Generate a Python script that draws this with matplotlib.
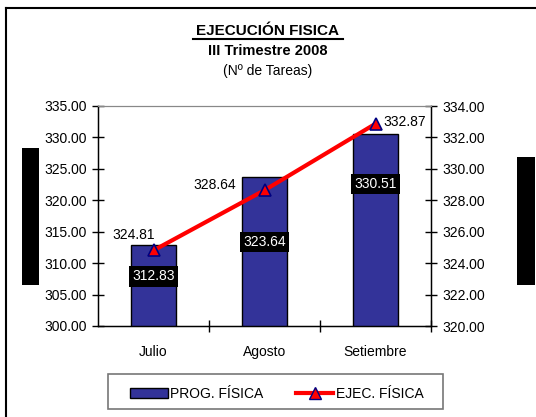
import matplotlib.pyplot as plt
from matplotlib.patches import Rectangle
from matplotlib.lines import Line2D

plt.rcParams['font.family'] = ['Liberation Sans', 'DejaVu Sans']

# Data
months = ["Julio", "Agosto", "Setiembre"]
prog_fisica = [312.83, 323.64, 330.51]
ejec_fisica = [324.81, 328.64, 332.87]
left_ticks = [300, 305, 310, 315, 320, 325, 330, 335]
right_ticks = [320, 322, 324, 326, 328, 330, 332, 334]

# where the white-on-black bar labels sit (left axis units)
bar_label_y = [307.95, 313.36, 322.59]
# offsets (points) of the line labels from their markers
line_label_offsets = [(-14, 11), (-36, 4), (21, 1.5)]

W, H = 536, 417
fig = plt.figure(figsize=(W / 100, H / 100), dpi=100)

ax = fig.add_axes([98 / W, 1 - 326 / H, 333 / W, 220 / H])
x = range(len(months))

ax.bar(x, prog_fisica, width=0.4, color="#333399", edgecolor="black", linewidth=1, zorder=2)
ax.set_xlim(-0.5, 2.5)
ax.set_ylim(300, 335)
ax.set_yticks(left_ticks)
ax.set_yticklabels([f"{v:.2f}" for v in left_ticks], fontsize=10)
ax.set_xticks(list(x))
ax.set_xticklabels(months, fontsize=10)
ax.tick_params(axis="x", length=0, pad=14)
ax.set_xticks([0.5, 1.5, 2.5], minor=True)
ax.tick_params(axis="x", which="minor", direction="inout", length=8, width=1)
ax.tick_params(axis="y", direction="inout", length=8, width=1, pad=4)

for i, v in enumerate(prog_fisica):
    ax.text(i, bar_label_y[i], f"{v:.2f}", color="white", fontsize=10,
            ha="center", va="center", zorder=3,
            bbox=dict(facecolor="black", edgecolor="none", pad=2.5))

ax.spines["top"].set_color("#888888")
for s in ["left", "right", "bottom"]:
    ax.spines[s].set_color("black")
    ax.spines[s].set_linewidth(1)

ax2 = ax.twinx()
ax2.plot(x, ejec_fisica, color="red", linewidth=3, marker="^", markersize=8,
         markerfacecolor="red", markeredgecolor="#000080", markeredgewidth=1.2, zorder=4)
ax2.set_ylim(320, 334)
ax2.set_yticks(right_ticks)
ax2.set_yticklabels([f"{v:.2f}" for v in right_ticks], fontsize=10)
ax2.tick_params(axis="y", direction="inout", length=8, width=1, pad=4)
ax2.spines["top"].set_color("#888888")

for i, v in enumerate(ejec_fisica):
    ax2.annotate(f"{v:.2f}", (i, v), xytext=line_label_offsets[i],
                 textcoords="offset points", ha="center", va="center", fontsize=10)

# Titles
fig.text(0.5, 1 - 31 / H, "EJECUCIÓN FISICA", ha="center", va="center",
         fontsize=11, fontweight="bold")
fig.add_artist(Line2D([193 / W, 343 / W], [1 - 39 / H, 1 - 39 / H], color="black", linewidth=1.5))
fig.text(0.5, 1 - 51 / H, "III Trimestre 2008", ha="center", va="center",
         fontsize=10.5, fontweight="bold")
fig.text(0.5, 1 - 71 / H, "(Nº de Tareas)", ha="center", va="center", fontsize=10)

# Legend (frame drawn separately so the entries can sit inside with side margins)
handles = [
    Rectangle((0, 0), 1, 1, facecolor="#333399", edgecolor="black", linewidth=1),
    Line2D([], [], color="red", linewidth=3, marker="^", markersize=8,
           markerfacecolor="red", markeredgecolor="#000080"),
]
leg = fig.legend(handles, ["PROG. FÍSICA", "EJEC. FÍSICA"], ncol=2,
                 loc="lower left", mode="expand",
                 bbox_to_anchor=(126 / W, 1 - 405 / H, 302 / W, 28 / H),
                 frameon=False, fontsize=10,
                 handlelength=2.7, handletextpad=0.2, borderaxespad=0,
                 borderpad=0.3)
fig.add_artist(Rectangle((108 / W, 1 - 409 / H), 335 / W, 35 / H, transform=fig.transFigure,
                         facecolor="none", edgecolor="#777777", linewidth=1.2))

# Outer frame lines (top and left only)
fig.add_artist(Line2D([6 / W, 1], [1 - 8 / H, 1 - 8 / H], color="black", linewidth=1.5))
fig.add_artist(Line2D([6 / W, 6 / W], [0, 1 - 8 / H], color="black", linewidth=1.5))

# Black bars on the sides
fig.add_artist(Rectangle((22 / W, 1 - 285 / H), 17 / W, 137 / H, transform=fig.transFigure,
                         facecolor="black", edgecolor="none"))
fig.add_artist(Rectangle((517 / W, 1 - 285 / H), 18 / W, 128 / H, transform=fig.transFigure,
                         facecolor="black", edgecolor="none"))

fig.savefig("out.png", dpi=100)
